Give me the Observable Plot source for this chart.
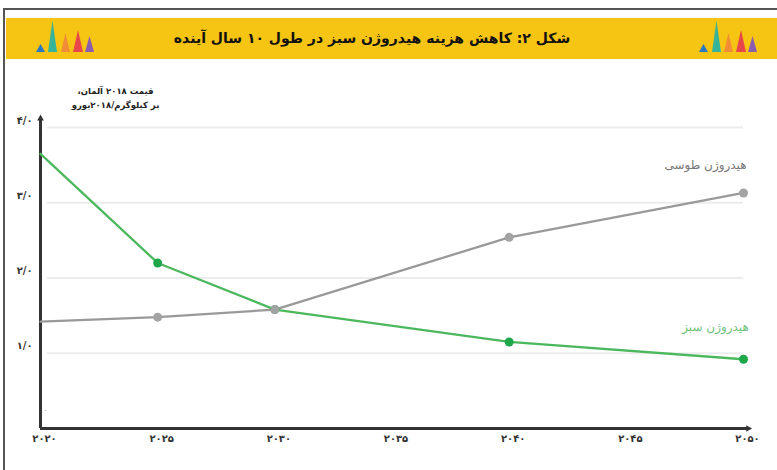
<!DOCTYPE html>
<html>
<head>
<meta charset="utf-8">
<script src="https://cdn.jsdelivr.net/npm/d3@7"></script>
<script src="https://cdn.jsdelivr.net/npm/@observablehq/plot@0.6"></script>
<style>
  html, body { margin: 0; padding: 0; background: #fff; }
  #wrap { position: relative; width: 777px; height: 470px; overflow: hidden; font-family: "DejaVu Sans", sans-serif; }
  #topline { position: absolute; left: 4px; right: 0; top: 8px; height: 1.5px; background: #555; }
  #leftline { position: absolute; left: 3px; top: 8px; bottom: 0; width: 1.5px; background: #555; }
  #header { position: relative; height: 60px; }
  #band { position: absolute; left: 6px; right: 0; top: 18px; height: 41px; background: #F6C413; }
  #title { position: absolute; left: 372px; top: 30px; transform: translateX(-50%); white-space: nowrap;
           font-weight: bold; font-size: 14px; color: #111; direction: rtl; }
  #icons { position: absolute; left: 0; top: 0; }
  #chart svg { display: block; }
</style>
</head>
<body>
<div id="wrap">
  <div id="header">
    <div id="band"></div>
    <svg id="icons" width="777" height="60"></svg>
    <div id="title"></div>
  </div>
  <div id="topline"></div>
  <div id="leftline"></div>
  <div id="chart"></div>
</div>
<script>
const titleText = "شکل ۲: کاهش هزینه هیدروژن سبز در طول ۱۰ سال آینده";
const axisTitle1 = "قیمت ۲۰۱۸ آلمان،";
const axisTitle2 = "بر کیلوگرم/۲۰۱۸یورو";
const years = [2020, 2025, 2030, 2040, 2050];
const greenValues = [3.65, 2.2, 1.58, 1.15, 0.92];
const grayValues = [1.42, 1.48, 1.58, 2.54, 3.13];
const greenName = "هیدروژن سبز";
const grayName = "هیدروژن طوسی";
const xTicks = [2020, 2025, 2030, 2035, 2040, 2045, 2050];
const yTicks = [1, 2, 3, 4];

const faDigits = "۰۱۲۳۴۵۶۷۸۹";
const fa = s => String(s).replace(/[0-9]/g, d => faDigits[+d]);
const rtl = s => "\u200F" + s + "\u200F";

document.getElementById("title").textContent = titleText;

// decorative triangles in header
const iconColors = ["#2a78c0", "#36b39b", "#f28c36", "#e8474b", "#8a5db0"];
const iconShapes = [[9, 8], [9, 31], [9, 19], [10, 22], [9, 16]];
const iconSvg = d3.select("#icons");
[[36, 48, 61, 73, 85], [699, 712, 724, 736, 748]].forEach(starts => {
  starts.forEach((x0, i) => {
    const [w, h] = iconShapes[i];
    const base = 52;
    iconSvg.append("polygon")
      .attr("points", `${x0},${base} ${x0 + w},${base} ${x0 + w / 2},${base - h}`)
      .attr("fill", iconColors[i]);
  });
});

const green = years.map((year, i) => ({year, value: greenValues[i]}));
const gray = years.map((year, i) => ({year, value: grayValues[i]}));

const chart = Plot.plot({
  width: 777,
  height: 410,
  marginLeft: 40,
  marginRight: 34,
  marginTop: 67,
  marginBottom: 42,
  style: {fontFamily: "DejaVu Sans, sans-serif", background: "transparent"},
  x: {domain: [2020, 2050], axis: null},
  y: {domain: [0, 4], axis: null},
  marks: [
    Plot.ruleY(yTicks, {x1: 2020.3, x2: 2050, stroke: "#ececec", strokeWidth: 2}),
    Plot.ruleX([2020], {y1: 0, y2: 4.12, stroke: "#333", strokeWidth: 3}),
    Plot.ruleY([0], {x1: 2020, x2: 2050.2, stroke: "#333", strokeWidth: 3}),
    Plot.dot([{year: 2020, value: 4.12}], {x: "year", y: "value", symbol: "triangle", r: 2.5, fill: "#333", stroke: "none"}),
    Plot.dot([{year: 2050.2, value: 0}], {x: "year", y: "value", symbol: "triangle", r: 2.5, fill: "#333", stroke: "none", rotate: 90}),
    Plot.text(xTicks, {x: d => d, y: 0, text: d => fa(d), dy: 10, dx: 4, fontSize: 10, fontWeight: "bold", fill: "#333"}),
    Plot.text(yTicks, {x: 2020, y: d => d, text: d => fa(d3.format(".1f")(d)).replace(".", "/"), dx: -8, dy: -7, textAnchor: "end", fontSize: 10, fontWeight: "bold", fill: "#333"}),
    Plot.text([0], {x: 2020, y: 0, text: d => fa(d), dx: 5, dy: -18, fontSize: 6, fill: "#333"}),
    Plot.text([axisTitle1], {frameAnchor: "top-left", text: d => rtl(d), dx: 75, dy: -40, textAnchor: "middle", fontSize: 8.5, fontWeight: "bold", fill: "#222"}),
    Plot.text([axisTitle2], {frameAnchor: "top-left", text: d => rtl(d), dx: 75, dy: -26, textAnchor: "middle", fontSize: 8.5, fontWeight: "bold", fill: "#222"}),
    Plot.line(gray, {x: "year", y: "value", stroke: "#999", strokeWidth: 2.3}),
    Plot.line(green, {x: "year", y: "value", stroke: "#4cb85e", strokeWidth: 2.3}),
    Plot.dot(green.filter(d => d.year > 2020), {x: "year", y: "value", r: 4.5, fill: "#1ea84a", stroke: "none"}),
    Plot.dot(gray.filter(d => d.year > 2020), {x: "year", y: "value", r: 4.5, fill: "#a3a3a3", stroke: "none"}),
    Plot.text([gray[gray.length - 1]], {x: "year", y: "value", text: () => grayName, dx: -38, dy: -28, fontSize: 12, fill: "#777"}),
    Plot.text([green[green.length - 1]], {x: "year", y: "value", text: () => greenName, dx: -28, dy: -32, fontSize: 12, fill: "#6fc27d"})
  ]
});
document.getElementById("chart").appendChild(chart);
</script>
</body>
</html>
